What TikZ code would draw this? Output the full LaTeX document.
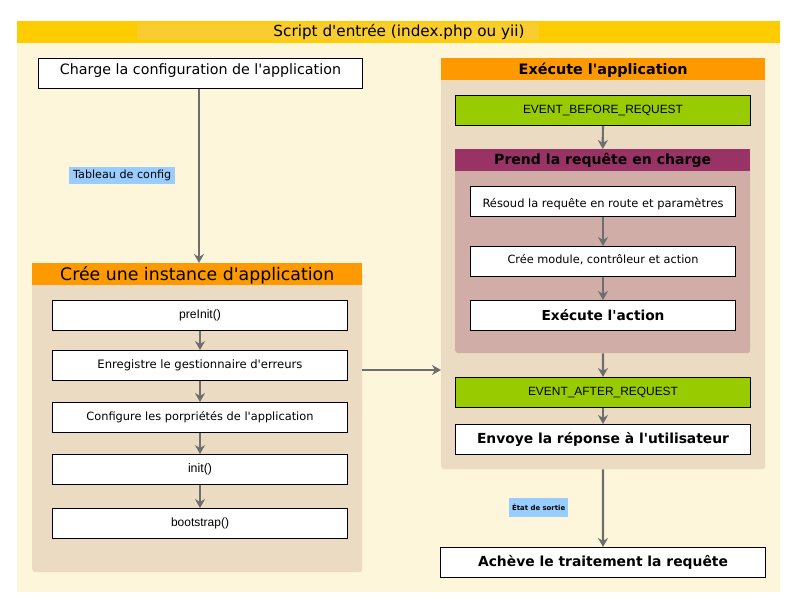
\documentclass[tikz,border=0pt]{standalone}
\usepackage{fontspec}
\setmainfont{DejaVu Sans}[Ligatures=TeXOff]
\newfontfamily\arialf{Liberation Sans}[Ligatures=TeXOff]
\usepackage{graphicx}
\usetikzlibrary{arrows.meta}
\definecolor{cream}{HTML}{FEF6DA}
\definecolor{yband}{HTML}{FFCC00}
\definecolor{ylight}{HTML}{F9CD30}
\definecolor{orangeh}{HTML}{FF9900}
\definecolor{beige}{HTML}{EBDBC2}
\definecolor{greenev}{HTML}{99CC00}
\definecolor{purpleh}{HTML}{993366}
\definecolor{pinkbody}{HTML}{D0ADA6}
\definecolor{bluelab}{HTML}{99CCFF}
\definecolor{arrgray}{HTML}{6E6E6E}
\newcommand\fw[2]{\resizebox{#1pt}{!}{#2}}
\newcommand\shiftv[2]{\raisebox{#1}[\height][\depth]{#2}}
\begin{document}
\begin{tikzpicture}[x=1pt,y=-1pt,
  panel/.style={fill=#1, rounded corners=3pt, anchor=north west, inner sep=0pt},
  headbar/.style={fill=#1, anchor=north west, inner sep=0pt, minimum height=22pt},
  box/.style={draw=black, line width=1pt, fill=#1, anchor=north west, inner sep=0pt, minimum height=30pt},
  box/.default=white,
  lab/.style={fill=bluelab, anchor=north west, inner sep=0pt},
  arr/.style={draw=arrgray, line width=2.2pt, -{Stealth[length=9pt,width=10pt]}}]
\useasboundingbox (0,0) rectangle (794,603);
\fill[white] (0,0) rectangle (794,603);
\fill[cream] (17,21) rectangle (780,592);
\node[headbar=yband, minimum width=763pt] (entry) at (17,21) {};
\fill[ylight] (137,23) rectangle (539,40);
\node (entrytxt) at (399,31.5) {\fw{251}{Script d'entrée (index.php ou yii)}};

% left
\node[box, minimum width=324pt] (charge) at (38,58) {\shiftv{3pt}{\fw{281}{Charge la configuration de l'application}}};
\node[lab, minimum width=106pt, minimum height=17pt] (tab) at (69,167) {\fw{98}{Tableau de config}};
\node[panel=beige, minimum width=330pt, minimum height=309pt] (leftc) at (32,263) {};
\node[headbar=orangeh, minimum width=330pt] (lefth) at (32,263) {\shiftv{-1.5pt}{\fw{274}{Crée une instance d'application}}};
\node[box, minimum width=295pt] (preinit) at (52,300) {\fw{42}{\arialf preInit()}};
\node[box, minimum width=295pt] (enreg) at (52,350) {\fw{205}{Enregistre le gestionnaire d'erreurs}};
\node[box, minimum width=295pt] (config) at (52,402) {\fw{227}{Configure les porpriétés de l'application}};
\node[box, minimum width=295pt] (init) at (52,454) {\fw{24}{\arialf init()}};
\node[box, minimum width=295pt] (boot) at (52,508) {\fw{58}{\arialf bootstrap()}};

% right
\node[panel=beige, minimum width=324pt, minimum height=411pt] (rightc) at (441,58) {};
\node[headbar=orangeh, minimum width=324pt] (righth) at (441,58) {\shiftv{-1pt}{\fw{169}{\bfseries Exécute l'application}}};
\node[box=greenev, minimum width=295pt] (before) at (455,95) {\fw{160}{\arialf EVENT\_BEFORE\_REQUEST}};
\node[panel=pinkbody, minimum width=295pt, minimum height=204pt] (prend) at (455,149) {};
\node[headbar=purpleh, minimum width=295pt] (prendh) at (455,149) {\fw{217}{\bfseries Prend la requête en charge}};
\node[box, minimum width=265pt] (resoud) at (470,186) {\shiftv{-3pt}{\fw{241}{Résoud la requête en route et paramètres}}};
\node[box, minimum width=265pt] (cree) at (470,246) {\shiftv{1.5pt}{\fw{191}{Crée module, contrôleur et action}}};
\node[box, minimum width=265pt] (execa) at (470,300) {\fw{123}{\bfseries Exécute l'action}};
\node[box=greenev, minimum width=295pt] (after) at (455,377) {\fw{150}{\arialf EVENT\_AFTER\_REQUEST}};
\node[box, minimum width=295pt] (envoye) at (455,424) {\fw{252}{\bfseries Envoye la réponse à l'utilisateur}};
\node[lab, minimum width=59pt, minimum height=19pt] (etat) at (509,498) {\fw{53}{\bfseries État de sortie}};
\node[box, minimum width=325pt] (acheve) at (440,547) {\fw{250}{\bfseries Achève le traitement la requête}};

% arrows
\draw[arr] (charge.south -| 199,0) -- (lefth.north -| 199,0);
\draw[arr] (preinit) -- (enreg);
\draw[arr] (enreg) -- (config);
\draw[arr] (config) -- (init);
\draw[arr] (init) -- (boot);
\draw[arr] (leftc.east |- 0,370) -- (rightc.west |- 0,370);
\draw[arr] (before) -- (prendh);
\draw[arr] (resoud) -- (cree);
\draw[arr] (cree) -- (execa);
\draw[arr] (prend) -- (after);
\draw[arr] (after) -- (envoye);
\draw[arr] (rightc) -- (acheve);
\end{tikzpicture}
\end{document}
